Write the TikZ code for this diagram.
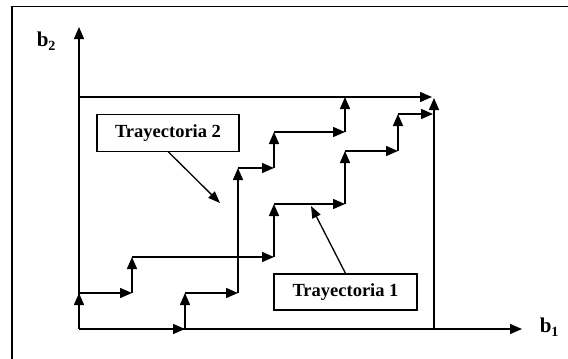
\documentclass[tikz,border=0pt]{standalone}
\usepackage{fontspec}
\setmainfont{Liberation Serif}
\usetikzlibrary{arrows.meta}
\begin{document}
\begin{tikzpicture}[x=1pt,y=-1pt,line width=1.5pt,
  arr/.style={-{Triangle[length=12pt,width=10pt]}},
  parr/.style={line width=1.3pt,-{Triangle[length=12pt,width=9pt]}},
  lbl/.style={draw,line width=1.3pt,minimum width=142pt,minimum height=37pt,inner sep=0pt,font=\fontsize{18.5}{18.5}\selectfont\bfseries},
  axlbl/.style={inner sep=0pt,font=\fontsize{21}{21}\selectfont\bfseries}]
\useasboundingbox (0,0) rectangle (568,359);
% frame
\coordinate (fbl) at (12,359);
\coordinate (ftl) at (12,6.5);
\coordinate (ftr) at (568,6.5);
\draw[line width=1.3pt] (fbl) -- (ftl) -- (ftr);
% axes
\coordinate (O) at (79,329);
\coordinate (ytip) at (79,27);
\coordinate (xtip) at (522,329);
\draw[arr] (O) -- (ytip);
\draw[arr] (O) -- (xtip);
\node[axlbl,anchor=base west] (b2) at (36,46) {b\raisebox{-4pt}{\fontsize{14}{14}\selectfont 2}};
\node[axlbl,anchor=base west] (b1) at (539,332) {b\raisebox{-4pt}{\fontsize{14}{14}\selectfont 1}};
% outer paths
\coordinate (TL) at (79,97);
\coordinate (TR) at (432,97);
\coordinate (BR) at (434,329);
\coordinate (BRt) at (434,98);
\draw[arr] (TL) -- (TR);
\draw[arr] (BR) -- (BRt);
% trajectory 1
\coordinate (a1) at (79,293);
\coordinate (a2) at (132,293);
\coordinate (a3) at (132,257);
\coordinate (a4) at (274,257);
\coordinate (a5) at (274,204);
\coordinate (a6) at (345,204);
\coordinate (a7) at (345,151);
\coordinate (a8) at (398,151);
\coordinate (a9) at (398,114);
\coordinate (a10) at (433,114);
\draw[arr] (O) -- (a1);
\draw[arr] (a1) -- (a2);
\draw[arr] (a2) -- (a3);
\draw[arr] (a3) -- (a4);
\draw[arr] (a4) -- (a5);
\draw[arr] (a5) -- (a6);
\draw[arr] (a6) -- (a7);
\draw[arr] (a7) -- (a8);
\draw[arr] (a8) -- (a9);
\draw[arr] (a9) -- (a10);
% trajectory 2
\coordinate (c1) at (185,329);
\coordinate (c2) at (185,293);
\coordinate (c3) at (238,293);
\coordinate (c4) at (238,168);
\coordinate (c5) at (274,168);
\coordinate (c6) at (274,132);
\coordinate (c7) at (345,132);
\coordinate (c8) at (345,97);
\draw[arr] (O) -- (c1);
\draw[arr] (c1) -- (c2);
\draw[arr] (c2) -- (c3);
\draw[arr] (c3) -- (c4);
\draw[arr] (c4) -- (c5);
\draw[arr] (c5) -- (c6);
\draw[arr] (c6) -- (c7);
\draw[arr] (c7) -- (c8);
% labels
\node[lbl] (t2) at (168,133) {Trayectoria 2};
\node[lbl,minimum width=143pt,minimum height=36pt] (t1) at (345.5,292) {Trayectoria 1};
\coordinate (p2) at (220,203);
\coordinate (p1) at (311,206);
\draw[parr] (168,151.5) -- (p2);
\draw[parr] (t1.north) -- (p1);
\end{tikzpicture}
\end{document}
